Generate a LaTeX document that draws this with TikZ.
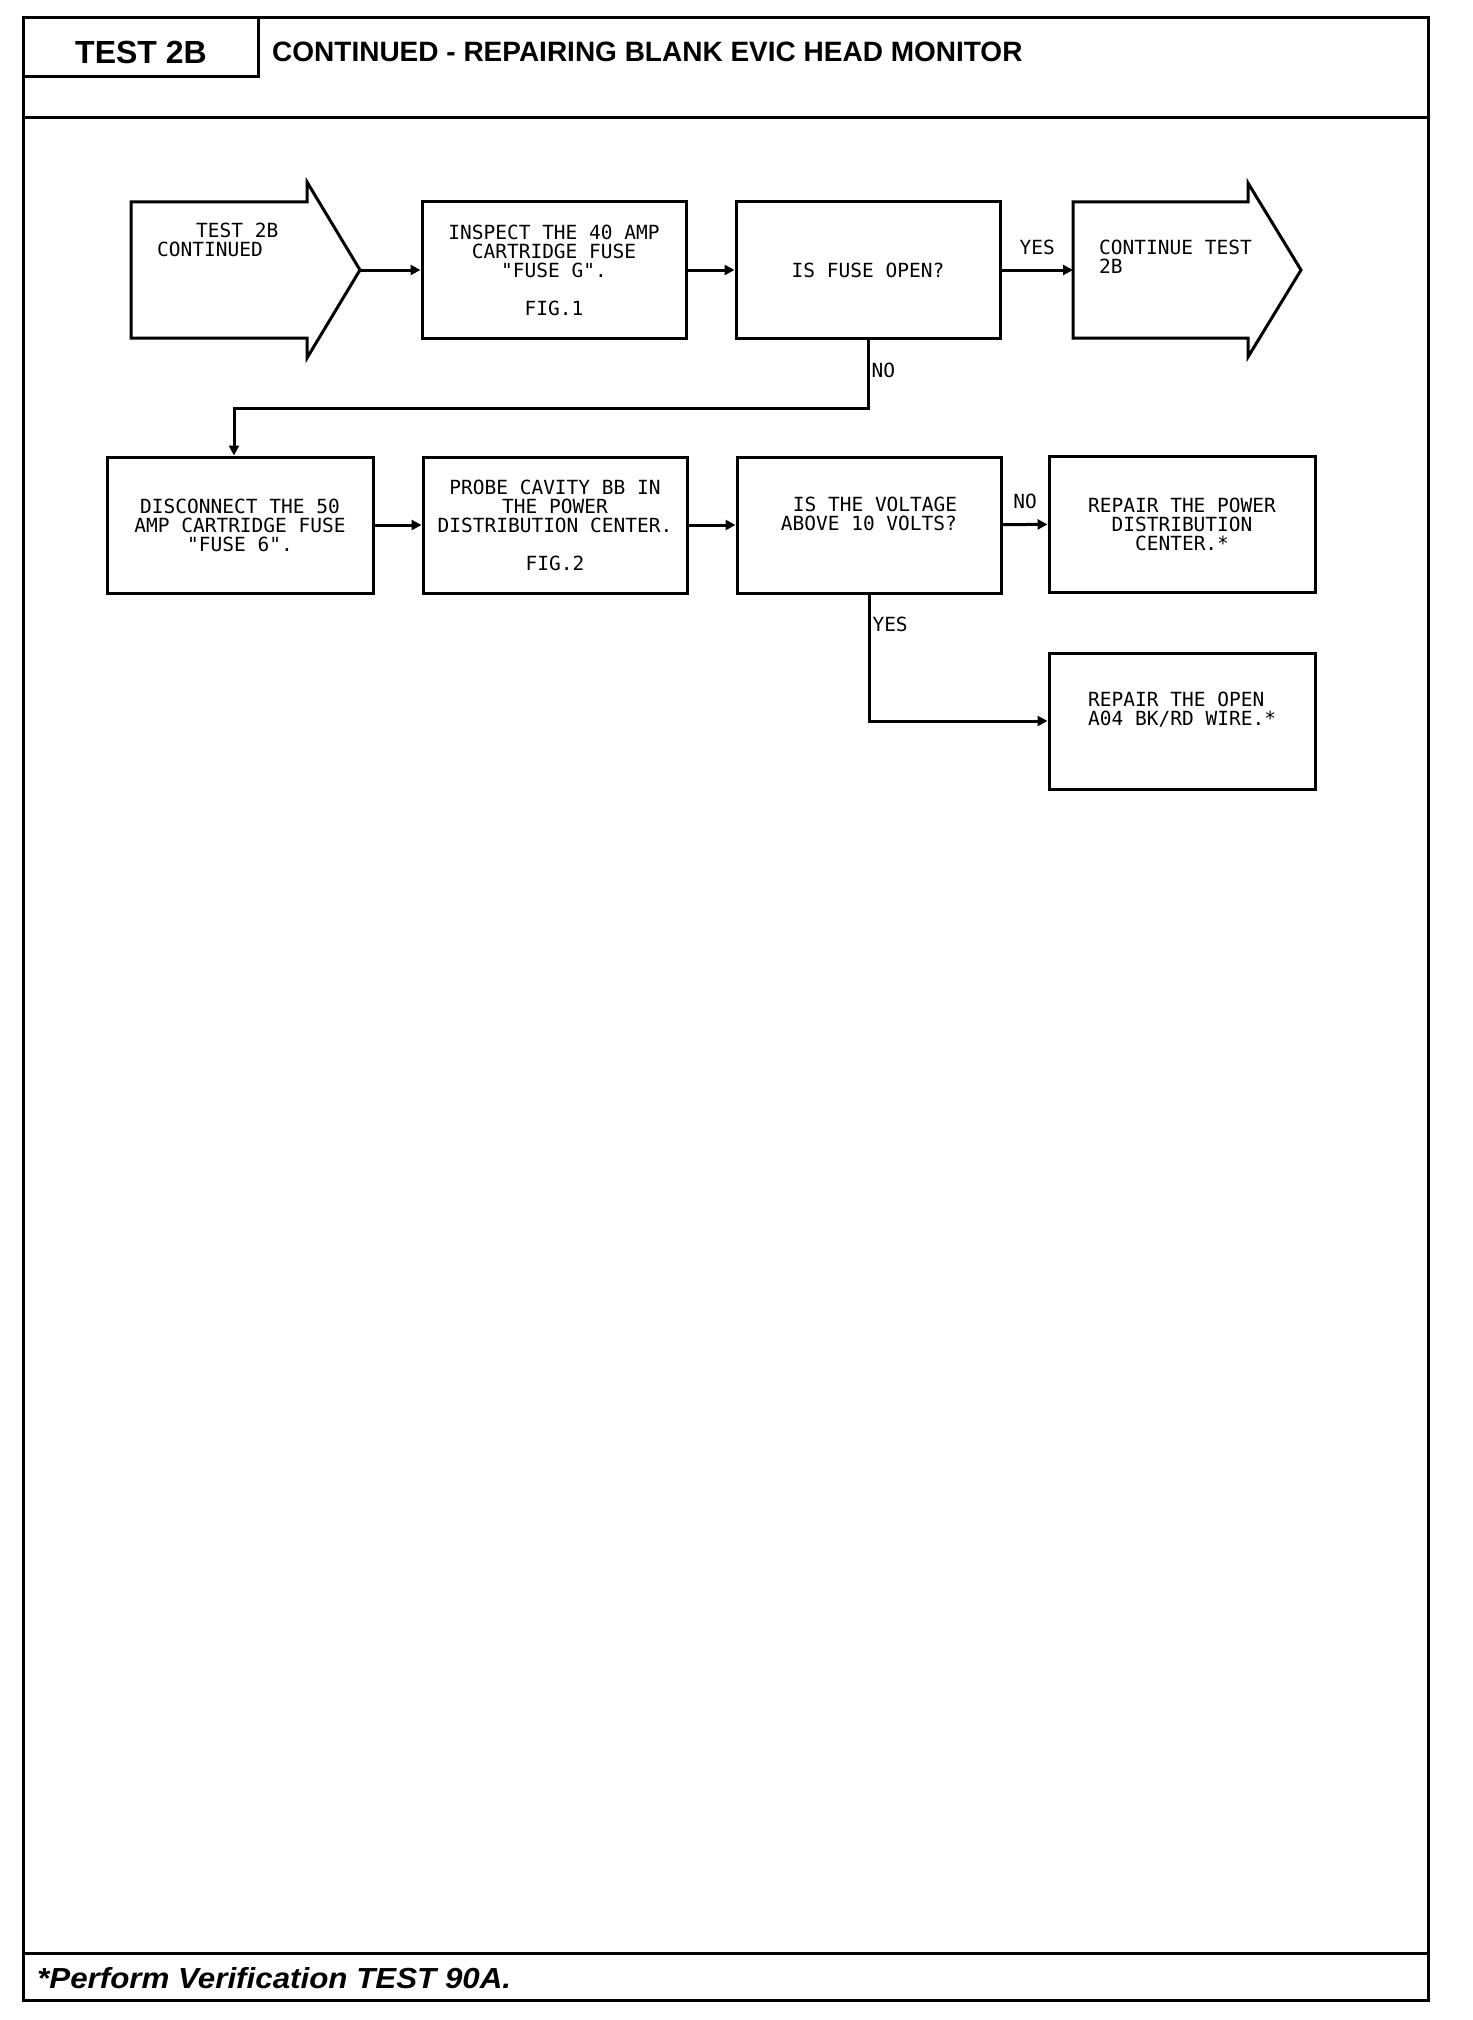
\documentclass[tikz,border=0pt]{standalone}
\usepackage{fontspec}
\setmainfont{Liberation Sans}
\newfontfamily\plotfont{DejaVu Sans Mono}
\newcommand{\plotsize}{\plotfont\fontsize{19.5}{19}\selectfont}
\usetikzlibrary{arrows.meta}
\usetikzlibrary{calc}

\begin{document}
\begin{tikzpicture}[x=1pt,y=-1pt,
    flowbox/.style={draw,line width=3pt,minimum width=264pt,minimum height=136pt,inner sep=0pt,align=center,font=\plotsize},
    boxtext/.style={inner sep=0pt,font=\plotsize},
    conn/.style={line width=3pt,-{Triangle[length=10pt,width=10pt]}},
    tag/.style={inner sep=2pt,font=\plotsize}]

		\useasboundingbox (0,0) rectangle (1472,2020);

		\coordinate (TL) at (23,18) ;
		\coordinate (BR) at (1428,2000) ;
		\coordinate (starttip) at (360,270) ;
		\coordinate (conttail) at (1073,270) ;

		% page frame
		\draw[line width=3pt] (TL) rectangle (BR);
		\draw[line width=3pt] (23,77) -- (258,77) -- (258,18);
		\draw[line width=3pt] (23,118) -- (1428,118);
		\draw[line width=3pt] (23,1953) -- (1428,1953);

		\node[inner sep=0pt,font=\bfseries\fontsize{32}{32}\selectfont] (testno) at (141,52) {TEST 2B};
		\node[anchor=west,inner sep=0pt,font=\bfseries\fontsize{28}{28}\selectfont] (title) at (272,52) {CONTINUED - REPAIRING BLANK EVIC HEAD MONITOR};
		\node[anchor=base west,inner sep=0pt,font=\bfseries\itshape\fontsize{29}{29}\selectfont] (note) at (37,1988) {\scalebox{1.08}[1]{*Perform Verification TEST 90A.}};

		% big arrows
		\draw[line width=3pt] (131,202) -- (307,202) -- (307,182) -- (starttip) -- (307,358) -- (307,338) -- (131,338) -- cycle;
		\draw[line width=3pt] (conttail) -- (1073,202) -- (1248,202) -- (1248,183) -- (1301,270) -- (1248,357) -- (1248,338) -- (1073,338) -- cycle;
		\node[boxtext,anchor=north west,align=left] (starttext) at (157,223) {\hspace*{39pt}TEST 2B\\CONTINUED};
		\node[boxtext,anchor=north west,align=left] (conttext) at (1099,240) {CONTINUE TEST\\2B};

		% row 1
		\node[flowbox] (inspect) at (554,270) {INSPECT THE 40 AMP\\CARTRIDGE FUSE\\"FUSE G".\\[19pt]FIG.1};
		\node[flowbox] (fuseopen) at (868,270) {IS FUSE OPEN?};

		% row 2
		\node[flowbox,minimum width=266pt] (disconnect) at (240,525) {DISCONNECT THE 50\\AMP CARTRIDGE FUSE\\"FUSE 6".};
		\node[flowbox] (probe) at (555,525) {PROBE CAVITY BB IN\\THE POWER\\DISTRIBUTION CENTER.\\[19pt]FIG.2};
		\node[flowbox] (voltage) at (869,525) {};
		\node[boxtext,align=left] (voltagetext) at (869,514) {\hspace*{12pt}IS THE VOLTAGE\\ABOVE 10 VOLTS?};
		\node[flowbox,minimum width=266pt] (repairpdc) at (1182,524) {REPAIR THE POWER\\DISTRIBUTION\\CENTER.*};

		% row 3
		\node[flowbox,minimum width=266pt] (repairwire) at (1182,721) {};
		\node[boxtext,anchor=west,align=left] (repairwiretext) at (1088,710) {REPAIR THE OPEN\\A04 BK/RD WIRE.*};

		% connectors
		\draw[conn] (starttip) -- (inspect.west);
		\draw[conn] (inspect) -- (fuseopen);
		\draw[conn] (fuseopen) -- node[tag,above=12pt] {YES} (conttail);
		\draw[conn] (fuseopen.south) -- node[tag,right,pos=0.45] {NO} ++(0,69) -| ($(disconnect.north)+(-6,0)$);
		\draw[conn] (disconnect) -- (probe);
		\draw[conn] (probe) -- (voltage);
		\draw[conn] (voltage) -- node[tag,above=12pt] {NO} (repairpdc);
		\draw[conn] (voltage.south) |- node[tag,right,pos=0.12] {YES} (repairwire.west);
\end{tikzpicture}
\end{document}
